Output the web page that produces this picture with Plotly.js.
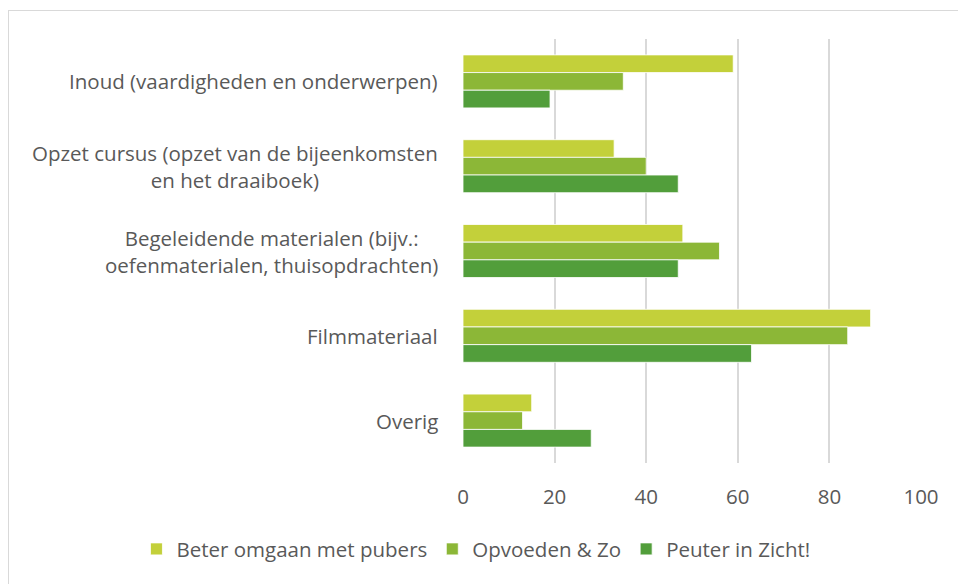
<!DOCTYPE html>
<html>
<head>
<meta charset="utf-8">
<script src="https://cdn.plot.ly/plotly-3.0.1.min.js"></script>
<style>
  html, body { margin: 0; padding: 0; background: #fff; }
  #wrap { position: relative; width: 958px; height: 584px; overflow: hidden; }
  #frame { position: absolute; left: 8px; top: 10px; width: 980px; height: 620px; border: 1.5px solid #d9d9d9; box-sizing: border-box; }
  #chart { position: absolute; left: 0; top: 0; width: 958px; height: 584px; }
</style>
</head>
<body>
<div id="wrap"><div id="frame"></div><div id="chart"></div></div>
<script>
const categories = [
  "Inoud (vaardigheden en onderwerpen)",
  "Opzet cursus (opzet van de bijeenkomsten<br>en het draaiboek)",
  "Begeleidende materialen (bijv.:<br>oefenmaterialen, thuisopdrachten)",
  "Filmmateriaal",
  "Overig"
];
const seriesNames = ["Beter omgaan met pubers", "Opvoeden & Zo", "Peuter in Zicht!"];
const beterValues = [59, 33, 48, 89, 15];
const opvoedenValues = [35, 40, 56, 84, 13];
const peuterValues = [19, 47, 47, 63, 28];
const xTickValues = [0, 20, 40, 60, 80, 100];
const colors = ["#C3D03A", "#8CB737", "#529E3B"];

const font = "'Open Sans', 'Segoe UI', sans-serif";
const txt = "#595959";
const fs = 20.5;

const allValues = [beterValues, opvoedenValues, peuterValues];
const traces = allValues.map((vals, i) => ({
  type: "bar",
  orientation: "h",
  name: seriesNames[i],
  y: categories,
  x: vals,
  marker: { color: colors[i], line: { color: "rgba(255,255,255,0.8)", width: 1 } },
  hoverinfo: "x+name"
}));

const annotations = categories.map(c => ({
  xref: "paper", yref: "y", x: -0.05, y: c,
  text: c, showarrow: false, xanchor: "right", yanchor: "middle", align: "center",
  font: { family: font, size: fs, color: txt }
}));

const layout = {
  width: 958, height: 584,
  margin: { l: 463, r: 37, t: 39, b: 121 },
  paper_bgcolor: "rgba(0,0,0,0)", plot_bgcolor: "rgba(0,0,0,0)",
  barmode: "group", bargap: 0.375, bargroupgap: 0,
  font: { family: font, size: fs, color: txt },
  xaxis: {
    range: [0, 100], tickvals: xTickValues, ticktext: xTickValues.map(String),
    showgrid: true, gridcolor: "#d9d9d9", gridwidth: 2,
    zeroline: false, showline: false, ticks: "", ticklabelstandoff: 19,
    tickfont: { family: font, size: fs, color: txt }, fixedrange: true
  },
  yaxis: {
    autorange: "reversed", showticklabels: false, showgrid: false,
    zeroline: false, showline: false, ticks: "", fixedrange: true
  },
  legend: {
    orientation: "h",
    x: -0.713, xanchor: "left", y: -0.203, yanchor: "middle",
    traceorder: "normal", font: { family: font, size: fs, color: txt },
    itemwidth: 30
  },
  annotations: annotations,
  showlegend: true
};

Plotly.newPlot("chart", traces, layout, { displayModeBar: false, staticPlot: true });
</script>
</body>
</html>
